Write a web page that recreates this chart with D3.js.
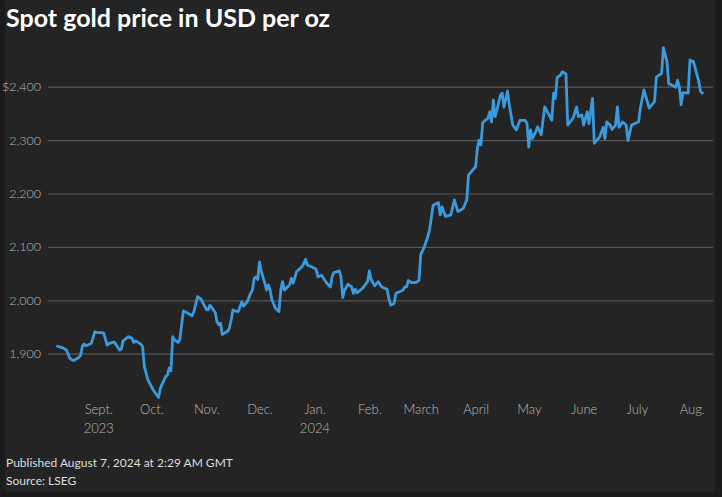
<!DOCTYPE html>
<html><head><meta charset="utf-8">
<script src="https://cdn.jsdelivr.net/npm/d3@7"></script>
<style>
html,body{margin:0;padding:0;background:#1b1b1b;}
svg{display:block;}
</style></head>
<body>
<svg id="chart" width="722" height="497"></svg>
<script>
const title = "Spot gold price in USD per oz";
const footerLines = ["Published August 7, 2024 at 2:29 AM GMT", "Source: LSEG"];

const dates = [
"2023-08-09","2023-08-12","2023-08-14","2023-08-16","2023-08-18","2023-08-21","2023-08-22","2023-08-23","2023-08-24","2023-08-25",
"2023-08-28","2023-08-30","2023-08-31","2023-09-04","2023-09-06","2023-09-07","2023-09-10","2023-09-13","2023-09-14","2023-09-15",
"2023-09-18","2023-09-20","2023-09-21","2023-09-22","2023-09-25","2023-09-26","2023-09-27","2023-09-29","2023-10-02","2023-10-05",
"2023-10-06","2023-10-09","2023-10-10","2023-10-11","2023-10-12","2023-10-13","2023-10-14","2023-10-16","2023-10-17","2023-10-19",
"2023-10-21","2023-10-24","2023-10-25","2023-10-27","2023-10-29","2023-11-01","2023-11-02","2023-11-03","2023-11-05","2023-11-06",
"2023-11-07","2023-11-08","2023-11-09","2023-11-10","2023-11-13","2023-11-14","2023-11-15","2023-11-16","2023-11-17","2023-11-19",
"2023-11-21","2023-11-22","2023-11-24","2023-11-26","2023-11-27","2023-11-28","2023-11-29","2023-11-30","2023-12-01","2023-12-02",
"2023-12-04","2023-12-05","2023-12-06","2023-12-07","2023-12-08","2023-12-10","2023-12-12","2023-12-13","2023-12-14","2023-12-15",
"2023-12-18","2023-12-19","2023-12-20","2023-12-22","2023-12-25","2023-12-26","2023-12-27","2023-12-28","2023-12-31","2024-01-02",
"2024-01-03","2024-01-05","2024-01-08","2024-01-10","2024-01-11","2024-01-12","2024-01-15","2024-01-16","2024-01-17","2024-01-18",
"2024-01-20","2024-01-22","2024-01-23","2024-01-24","2024-01-25","2024-01-28","2024-01-31","2024-02-01","2024-02-02","2024-02-04",
"2024-02-06","2024-02-08","2024-02-10","2024-02-11","2024-02-12","2024-02-13","2024-02-15","2024-02-16","2024-02-18","2024-02-20",
"2024-02-21","2024-02-22","2024-02-23","2024-02-25","2024-02-27","2024-02-29","2024-03-01","2024-03-03","2024-03-05","2024-03-06",
"2024-03-08","2024-03-11","2024-03-12","2024-03-13","2024-03-15","2024-03-18","2024-03-20","2024-03-22","2024-03-25","2024-03-27",
"2024-03-28","2024-04-01","2024-04-02","2024-04-03","2024-04-04","2024-04-05","2024-04-08","2024-04-09","2024-04-10","2024-04-11",
"2024-04-12","2024-04-13","2024-04-15","2024-04-16","2024-04-17","2024-04-19","2024-04-20","2024-04-22","2024-04-24","2024-04-26",
"2024-04-29","2024-04-30","2024-05-01","2024-05-02","2024-05-03","2024-05-05","2024-05-06","2024-05-08","2024-05-10","2024-05-12",
"2024-05-14","2024-05-15","2024-05-16","2024-05-17","2024-05-19","2024-05-20","2024-05-22","2024-05-23","2024-05-26","2024-05-28",
"2024-05-29","2024-05-31","2024-06-01","2024-06-02","2024-06-03","2024-06-04","2024-06-06","2024-06-07","2024-06-10","2024-06-12",
"2024-06-13","2024-06-14","2024-06-16","2024-06-17","2024-06-19","2024-06-20","2024-06-21","2024-06-23","2024-06-25","2024-06-26",
"2024-06-28","2024-06-30","2024-07-02","2024-07-03","2024-07-05","2024-07-08","2024-07-11","2024-07-12","2024-07-15","2024-07-16",
"2024-07-18","2024-07-19","2024-07-23","2024-07-24","2024-07-25","2024-07-26","2024-07-27","2024-07-30","2024-07-31","2024-08-02",
"2024-08-05","2024-08-06","2024-08-07"
];
const prices = [
1914,1911,1907,1891,1887,1893,1897,1914,1918,1915,
1919,1941,1940,1939,1916,1919,1922,1907,1909,1924,
1932,1929,1921,1924,1918,1913,1876,1851,1832,1818,
1835,1857,1860,1873,1868,1932,1926,1921,1926,1980,
1977,1971,1979,2007,2002,1983,1982,1991,1982,1977,
1960,1954,1957,1936,1942,1948,1963,1982,1980,1979,
1997,1989,1997,2013,2019,2041,2044,2039,2072,2054,
2032,2019,2029,2019,2001,1985,1979,2019,2035,2019,
2029,2041,2032,2054,2063,2069,2077,2066,2062,2058,
2044,2047,2032,2025,2044,2052,2055,2044,2005,2019,
2030,2025,2013,2021,2014,2022,2035,2055,2039,2027,
2035,2025,2022,2021,2004,1991,1994,2013,2016,2019,
2025,2025,2037,2033,2033,2037,2085,2100,2119,2132,
2178,2183,2160,2175,2157,2160,2188,2166,2172,2188,
2235,2250,2285,2300,2291,2333,2341,2353,2334,2375,
2344,2356,2384,2388,2362,2392,2366,2328,2319,2337,
2337,2331,2287,2319,2303,2316,2325,2310,2362,2350,
2337,2388,2378,2417,2422,2428,2424,2328,2341,2362,
2344,2347,2328,2341,2353,2331,2378,2294,2306,2324,
2303,2334,2328,2320,2328,2362,2324,2334,2328,2299,
2328,2331,2334,2360,2394,2360,2372,2418,2425,2473,
2447,2406,2399,2412,2400,2366,2389,2388,2450,2447,
2409,2391,2388
];

const yTicks = [1900, 2000, 2100, 2200, 2300, 2400];
const monthTicks = ["2023-09-01","2023-10-01","2023-11-01","2023-12-01","2024-01-01","2024-02-01","2024-03-01","2024-04-01","2024-05-01","2024-06-01","2024-07-01","2024-08-01"];
const monthLabels = ["Sept.","Oct.","Nov.","Dec.","Jan.","Feb.","March","April","May","June","July","Aug."];
const yearLabels = ["2023","","","","2024","","","","","","",""];

const parse = d3.utcParse("%Y-%m-%d");
const data = dates.map((d, i) => ({date: parse(d), value: prices[i]}));

const svg = d3.select("#chart");
const FONT = "Lato, 'Source Sans Pro', 'Noto Sans', sans-serif";

// panel background
svg.append("rect").attr("x", 5).attr("y", 0).attr("width", 710).attr("height", 492).attr("fill", "#242424");

const left = 48, right = 713;
const day = 86400000;
const sep1 = parse("2023-09-01").getTime();
const x = d3.scaleUtc()
  .domain([new Date(sep1 - 28.4 * day), new Date(sep1 + 347.0 * day)])
  .range([left, right]);
const y = d3.scaleLinear().domain([1800, 2500]).range([407.1, 33.3]);

// y axis with gridlines
const yAxis = d3.axisLeft(y)
  .tickValues(yTicks)
  .tickSize(-(right - left))
  .tickPadding(7)
  .tickFormat((d, i) => (i === yTicks.length - 1 ? "$" : "") + d3.format(",")(d));
const gy = svg.append("g").attr("transform", `translate(${left},0)`).call(yAxis);
gy.select(".domain").remove();
gy.selectAll(".tick line").attr("stroke", "#555555").attr("stroke-width", 1.2);
gy.selectAll(".tick text").attr("fill", "#b8b8b8").style("font-family", FONT).style("font-weight", 300).style("font-size", "12.5px");

// x axis
const xAxis = d3.axisBottom(x)
  .tickValues(monthTicks.map(parse))
  .tickSize(0)
  .tickPadding(0)
  .tickFormat((d, i) => monthLabels[i]);
const gx = svg.append("g").attr("transform", `translate(0,402)`).call(xAxis);
gx.select(".domain").remove();
gx.selectAll(".tick text")
  .attr("fill", "#b8b8b8").style("font-family", FONT).style("font-weight", 300).style("font-size", "13px")
  .attr("dy", "0.71em").attr("y", 3)
  .each(function(d, i) {
    if (yearLabels[i]) {
      d3.select(this).append("tspan").attr("x", 0).attr("dy", "1.45em").text(yearLabels[i]);
    }
  });

// line
const line = d3.line().x(d => x(d.date)).y(d => y(d.value)).curve(d3.curveLinear);
svg.append("path").datum(data)
  .attr("d", line)
  .attr("fill", "none")
  .attr("stroke", "#3b99dc")
  .attr("stroke-width", 2.8)
  .attr("stroke-linejoin", "round")
  .attr("stroke-linecap", "round");

// title
svg.append("text").attr("x", 6).attr("y", 27)
  .attr("fill", "#ffffff").style("font-family", FONT).style("font-weight", 700).style("font-size", "25px")
  .text(title);

// footer
svg.selectAll("text.foot").data(footerLines).enter().append("text").attr("class", "foot")
  .attr("x", 6).attr("y", (d, i) => 467 + i * 18)
  .attr("fill", "#dddddd").style("font-family", FONT).style("font-size", "12px")
  .text(d => d);
</script>
</body></html>
